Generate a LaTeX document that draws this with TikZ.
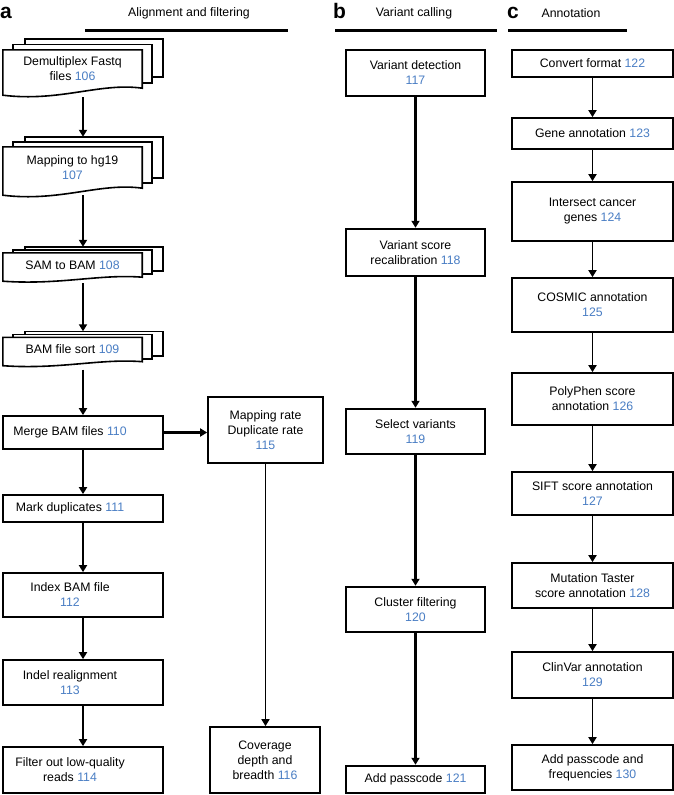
\documentclass[tikz,border=0pt]{standalone}
\usepackage{fontspec}
\setmainfont{Liberation Sans}
\usetikzlibrary{arrows.meta,backgrounds}

\definecolor{stepblue}{RGB}{74,126,196}
\newcommand{\stepno}[1]{\textcolor{stepblue}{#1}}
% pages behind a file node: node, step, wave drop
\newcommand{\docstack}[3]{%
  \begin{pgfonlayer}{background}
    \draw[page] ([shift={(22pt,2*#2)}]#1.north west) rectangle ([shift={(21pt,2*#2)}]#1.south east);
    \draw[page] ([shift={(10pt,#2)}]#1.north west) rectangle ([shift={(10pt,#2)}]#1.south east);
    \draw[page] ([yshift=-#3]#1.south west) -- (#1.north west) -- (#1.north east) -- (#1.south east)
      .. controls +(-42pt,0.85*#3) and +(57pt,-#3) .. ([yshift=-#3]#1.south west) -- cycle;
  \end{pgfonlayer}
  \coordinate (#1top) at ([yshift=2*#2]#1.north);}

\begin{document}
\begin{tikzpicture}[x=1pt,y=-1pt,
  font=\fontsize{12.3pt}{15pt}\selectfont,
  box/.style={draw, line width=1.7pt, fill=white, align=center, inner sep=0pt},
  abox/.style={box, minimum width=160pt},
  bbox/.style={box, line width=2.5pt, minimum width=139pt},
  cbox/.style={box, minimum width=161pt},
  page/.style={draw, line width=1.6pt, fill=white},
  front/.style={align=center, inner sep=0pt, minimum width=139pt},
  every label/.style={align=center, inner sep=0pt},
  arr/.style={-{Triangle[width=8pt,length=7pt]}, line width=2.3pt},
  head/.style={line width=3pt},
  panel/.style={font=\fontsize{21pt}{21pt}\selectfont\bfseries, inner sep=0pt, anchor=base west},
]
\useasboundingbox (0,0) rectangle (674,795);

% headers
\node[panel] (la) at (0,18) {a};
\node (ha) at (189,13) {Alignment and filtering};
\draw[head] (85,30.5) -- (288,30.5);
\node[panel] (lb) at (333,18) {b};
\node (hb) at (414,13) {Variant calling};
\draw[head] (335,30) -- (497,30);
\node[panel] (lc) at (507,18) {c};
\node (hc) at (571,13) {Annotation};
\draw[head] (508,30) -- (627,30);

% a: alignment and filtering
\node[front, minimum height=38pt] (d1) at (72.5,69) {Demultiplex Fastq\\files \stepno{106}};
\docstack{d1}{5.5pt}{7pt}
\node[front, minimum height=41pt] (d2) at (72.5,167.5) {Mapping to hg19\\\stepno{107}};
\docstack{d2}{5pt}{7pt}
\node[front, minimum height=24pt] (d3) at (72.5,265) {SAM to BAM \stepno{108}};
\docstack{d3}{3pt}{4pt}
\node[front, minimum height=24pt] (d4) at (72.5,349.5) {BAM file sort \stepno{109}};
\docstack{d4}{3pt}{4pt}
\coordinate (acol) at (83,0);

\node[abox, minimum height=33pt, label={[xshift=-13pt]center:{Merge BAM files \stepno{110}}}] (m110) at (83,432.5) {};
\node[abox, minimum height=27pt, label={[xshift=-13pt]center:{Mark duplicates \stepno{111}}}] (m111) at (83,508.5) {};
\node[abox, minimum height=44pt, label={[xshift=-13pt]center:{Index BAM file\\\stepno{112}}}] (m112) at (83,595) {};
\node[abox, minimum height=45pt, label={[xshift=-13pt]center:{Indel realignment\\\stepno{113}}}] (m113) at (83,682.5) {};
\node[abox, minimum height=46pt, label={[xshift=-13pt]center:{Filter out low-quality\\reads \stepno{114}}}] (m114) at (83,770) {};

\node[box, minimum width=115pt, minimum height=66pt] (m115) at (265.5,430) {Mapping rate\\Duplicate rate\\\stepno{115}};
\node[box, minimum width=110pt, minimum height=66pt] (m116) at (265,760) {Coverage\\depth and\\breadth \stepno{116}};

\draw[arr] ([yshift=-9pt]d1.south -| acol) -- (d2top -| acol);
\draw[arr] ([yshift=-7pt]d2.south -| acol) -- (d3top -| acol);
\draw[arr] ([yshift=-6pt]d3.south -| acol) -- (d4top -| acol);
\draw[arr] ([yshift=-8pt]d4.south -| acol) -- (m110);
\draw[arr] (m110) -- (m111);
\draw[arr] (m111) -- (m112);
\draw[arr] (m112) -- (m113);
\draw[arr] (m113) -- (m114);
\draw[arr] (m110.east) -- (m110.east -| m115.west);
\draw[arr, line width=1.6pt] (m115.south) -- (m115.south |- m116.north);

% b: variant calling
\node[bbox, minimum height=46pt] (b117) at (415.5,73) {Variant detection\\\stepno{117}};
\node[bbox, minimum height=47pt] (b118) at (415.5,252.5) {Variant score\\recalibration \stepno{118}};
\node[bbox, minimum height=45pt] (b119) at (415.5,431.5) {Select variants\\\stepno{119}};
\node[bbox, minimum height=45pt] (b120) at (415.5,609.5) {Cluster filtering\\\stepno{120}};
\node[bbox, minimum height=27pt] (b121) at (415.5,779.5) {Add passcode \stepno{121}};
\draw[arr] (b117) -- (b118);
\draw[arr] (b118) -- (b119);
\draw[arr] (b119) -- (b120);
\draw[arr] (b120) -- (b121);

% c: annotation
\node[cbox, minimum height=27pt] (c122) at (592.5,63.5) {Convert format \stepno{122}};
\node[cbox, minimum height=31pt] (c123) at (592.5,133.5) {Gene annotation \stepno{123}};
\node[cbox, minimum height=59pt] (c124) at (592.5,211.5) {Intersect cancer\\genes \stepno{124}};
\node[cbox, minimum height=54pt] (c125) at (592.5,305) {COSMIC annotation\\\stepno{125}};
\node[cbox, minimum height=52pt] (c126) at (592.5,399) {PolyPhen score\\annotation \stepno{126}};
\node[cbox, minimum height=43pt] (c127) at (592.5,493.5) {SIFT score annotation\\\stepno{127}};
\node[cbox, minimum height=45pt] (c128) at (592.5,585.5) {Mutation Taster\\score annotation \stepno{128}};
\node[cbox, minimum height=46pt] (c129) at (592.5,675) {ClinVar annotation\\\stepno{129}};
\node[cbox, minimum height=45pt] (c130) at (592.5,767.5) {Add passcode and\\frequencies \stepno{130}};
\draw[arr, line width=1.9pt] (c122) -- (c123);
\draw[arr, line width=1.9pt] (c123) -- (c124);
\draw[arr, line width=1.9pt] (c124) -- (c125);
\draw[arr, line width=1.9pt] (c125) -- (c126);
\draw[arr, line width=1.9pt] (c126) -- (c127);
\draw[arr, line width=1.9pt] (c127) -- (c128);
\draw[arr, line width=1.9pt] (c128) -- (c129);
\draw[arr, line width=1.9pt] (c129) -- (c130);
\end{tikzpicture}
\end{document}
